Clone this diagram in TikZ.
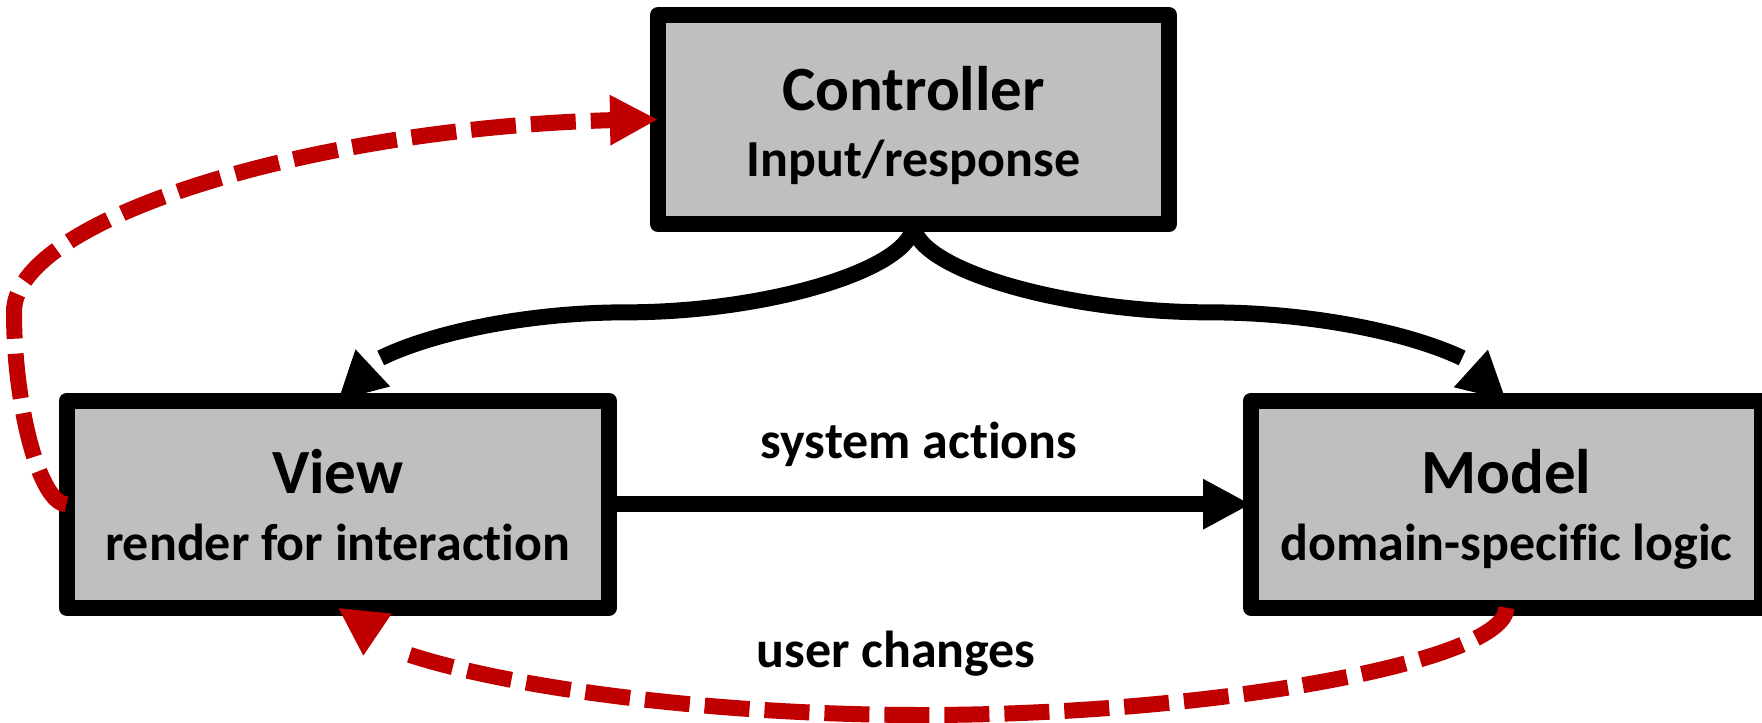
\documentclass[tikz,border=0pt]{standalone}
\usepackage{fontspec}
\setmainfont{Carlito}[Ligatures=NoCommon]
\usetikzlibrary{arrows.meta,bending}

\definecolor{boxgray}{RGB}{191,191,191}
\definecolor{loopred}{RGB}{192,0,0}

\tikzset{
  box/.style={draw=black, line width=8pt, fill=boxgray, line join=round,
              inner sep=0pt, outer sep=0pt},
  titletext/.style={anchor=base, inner sep=0pt,
                    font=\fontsize{31.5}{38}\selectfont\bfseries},
  subtext/.style={anchor=base, inner sep=0pt,
                  font=\fontsize{26}{31}\selectfont\bfseries},
  conn/.style={draw=black, line width=8pt,
               -{Triangle[length=24pt,width=23.5pt,flex]}},
  dashconn/.style={conn, draw=loopred,
                   dash pattern=on 22.5pt off 7.5pt},
}

\begin{document}
\begin{tikzpicture}[x=0.5pt,y=-0.5pt]
  \useasboundingbox (0,0) rectangle (1762,723);

  % the three components
  \node[box, minimum width=255.5pt, minimum height=104.5pt] (ctrl) at (913.5,119.5) {};
  \node[box, minimum width=271.25pt, minimum height=103.5pt] (view) at (337.75,504.2) {};
  \node[box, minimum width=255.35pt, minimum height=103.5pt] (model) at (1506.4,504.2) {};

  \node[titletext] (ctrl-title) at (913.5,110) {Controller};
  \node[subtext]   (ctrl-sub)   at (913.5,176) {Input/response};
  \node[titletext] (view-title) at (337.75,493) {View};
  \node[subtext]   (view-sub)   at (337.75,560) {render for interaction};
  \node[titletext] (model-title) at (1506.4,493) {Model};
  \node[subtext]   (model-sub)   at (1506.4,560) {domain-specific logic};

  % turning points of the curved connectors
  \coordinate (cv) at (625.6,312.35);
  \coordinate (cm) at (1209.9,312.35);
  \coordinate (vc) at (14,311.85);
  \coordinate (mv) at (922,715);

  % controller drives view and model
  \draw[conn] (ctrl.south) .. controls (913.5,268.2) and (769.6,312.35) .. (cv)
              .. controls (481.7,312.35) and (337.75,356.5) .. (view.north);
  \draw[conn] (ctrl.south) .. controls (913.5,268.2) and (1061.7,312.35) .. (cm)
              .. controls (1358.2,312.35) and (1506.4,356.5) .. (model.north);

  % view to model
  \draw[conn] (view.east) -- (model.west);
  \node[subtext] (lbl-sys) at (919,458) {system actions};

  % feedback loops
  \draw[dashconn] (view.west) .. controls (40.25,504.2) and (14,408) .. (vc)
                  .. controls (14,215.7) and (336,119.5) .. (ctrl.west);
  \draw[dashconn] (model.south) .. controls (1506.4,661.4) and (1214.2,715) .. (mv)
                  .. controls (629.9,715) and (337.75,661.4) .. (view.south);
  \node[subtext] (lbl-user) at (896,667) {user changes};
\end{tikzpicture}
\end{document}
